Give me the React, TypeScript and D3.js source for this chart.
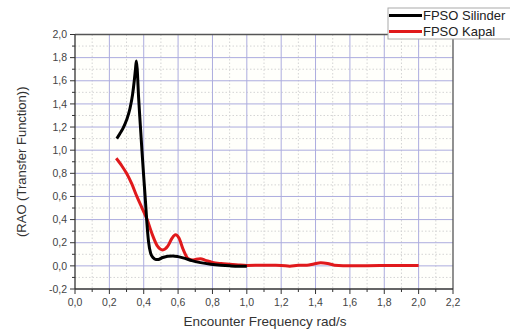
import React from "react";
import * as d3 from "d3";

const silinderX = [0.243, 0.26, 0.28, 0.30, 0.32, 0.335, 0.345, 0.352, 0.357, 0.362, 0.37, 0.38, 0.39, 0.40, 0.41, 0.418, 0.428, 0.44, 0.455, 0.47, 0.485, 0.51, 0.54, 0.57, 0.60, 0.64, 0.68, 0.73, 0.79, 0.85, 0.90, 0.95, 1.0];
const silinderY = [1.10, 1.14, 1.19, 1.26, 1.36, 1.48, 1.60, 1.70, 1.77, 1.70, 1.46, 1.22, 0.99, 0.77, 0.56, 0.38, 0.21, 0.11, 0.07, 0.056, 0.056, 0.072, 0.084, 0.086, 0.08, 0.065, 0.045, 0.028, 0.014, 0.005, 0.0, -0.003, -0.003];

const kapalX = [0.24, 0.27, 0.30, 0.33, 0.36, 0.39, 0.42, 0.45, 0.48, 0.51, 0.54, 0.565, 0.585, 0.605, 0.63, 0.66, 0.685, 0.705, 0.73, 0.76, 0.80, 0.85, 0.90, 0.95, 1.0, 1.1, 1.2, 1.25, 1.3, 1.35, 1.39, 1.43, 1.47, 1.51, 1.56, 1.7, 1.85, 2.0];
const kapalY = [0.93, 0.87, 0.80, 0.71, 0.60, 0.50, 0.40, 0.27, 0.17, 0.138, 0.17, 0.24, 0.268, 0.24, 0.14, 0.06, 0.05, 0.058, 0.062, 0.048, 0.03, 0.02, 0.014, 0.008, 0.004, 0.005, 0.004, -0.003, 0.005, 0.005, 0.016, 0.026, 0.02, 0.006, 0.002, 0.002, 0.003, 0.003];

const xTicks = [0, 0.2, 0.4, 0.6, 0.8, 1.0, 1.2, 1.4, 1.6, 1.8, 2.0, 2.2];
const yTicks = [-0.2, 0, 0.2, 0.4, 0.6, 0.8, 1.0, 1.2, 1.4, 1.6, 1.8, 2.0];
const seriesNames = ["FPSO Silinder", "FPSO Kapal"];
const seriesColors = ["#000000", "#e0191b"];

const fmt = (v: number) => v.toFixed(1).replace(".", ",");

export default function App() {
  const W = 510, H = 331;
  const left = 75, right = 453, top = 34.5, bottom = 289;
  const x = d3.scaleLinear().domain([0, 2.2]).range([left, right]);
  const y = d3.scaleLinear().domain([-0.2, 2.0]).range([bottom, top]);
  const minorX = xTicks.slice(0, -1).map((t) => t + 0.1);
  const minorY = yTicks.slice(0, -1).map((t) => t + 0.1);
  const line = d3
    .line<[number, number]>()
    .x((d) => x(d[0]))
    .y((d) => y(d[1]))
    .curve(d3.curveMonotoneX);
  const sData: [number, number][] = silinderX.map((v, i) => [v, silinderY[i]]);
  const kData: [number, number][] = kapalX.map((v, i) => [v, kapalY[i]]);
  const font = "'Liberation Sans', Arial, sans-serif";
  return (
    <svg
      width={W}
      height={H}
      style={{ position: "absolute", left: 0, top: 0, background: "#fff" }}
      fontFamily={font}
    >
      <rect x={left} y={top} width={right - left} height={bottom - top} fill="#fffffb" />
      {minorX.map((t) => (
        <line key={"mx" + t} x1={x(t)} x2={x(t)} y1={top} y2={bottom} stroke="#d4d4d4" strokeDasharray="1.5,2" />
      ))}
      {minorY.map((t) => (
        <line key={"my" + t} x1={left} x2={right} y1={y(t)} y2={y(t)} stroke="#d4d4d4" strokeDasharray="1.5,2" />
      ))}
      {xTicks.slice(1, -1).map((t) => (
        <line key={"gx" + t} x1={x(t)} x2={x(t)} y1={top} y2={bottom} stroke="#acacde" strokeWidth={1} />
      ))}
      {yTicks.slice(1, -1).map((t) => (
        <line key={"gy" + t} x1={left} x2={right} y1={y(t)} y2={y(t)} stroke="#acacde" strokeWidth={1} />
      ))}
      <path d={line(kData) || ""} fill="none" stroke={seriesColors[1]} strokeWidth={3} strokeLinejoin="round" />
      <path d={line(sData) || ""} fill="none" stroke={seriesColors[0]} strokeWidth={3} strokeLinejoin="round" />
      <line x1={left} x2={right} y1={top} y2={top} stroke="#555" strokeWidth={1.3} />
      <line x1={right} x2={right} y1={top} y2={bottom} stroke="#555" strokeWidth={1.3} />
      <line x1={left} x2={left} y1={top} y2={bottom} stroke="#333" strokeWidth={1.3} />
      <line x1={left} x2={right} y1={bottom} y2={bottom} stroke="#333" strokeWidth={1.3} />
      {xTicks.map((t) => (
        <g key={"xt" + t}>
          <line x1={x(t)} x2={x(t)} y1={bottom} y2={bottom + 5} stroke="#333" />
          <text x={x(t)} y={bottom + 17} textAnchor="middle" fontSize={10.5} fill="#444">
            {fmt(t)}
          </text>
        </g>
      ))}
      {minorX.map((t) => (
        <line key={"mxt" + t} x1={x(t)} x2={x(t)} y1={bottom} y2={bottom + 3} stroke="#333" />
      ))}
      {yTicks.map((t) => (
        <g key={"yt" + t}>
          <line x1={left - 5} x2={left} y1={y(t)} y2={y(t)} stroke="#333" />
          <text x={left - 8} y={y(t) + 3.7} textAnchor="end" fontSize={10.5} fill="#444">
            {fmt(t)}
          </text>
        </g>
      ))}
      {minorY.map((t) => (
        <line key={"myt" + t} x1={left - 3} x2={left} y1={y(t)} y2={y(t)} stroke="#333" />
      ))}
      <text x={(left + right) / 2 + 1} y={326} textAnchor="middle" fontSize={13.5} fill="#333">
        Encounter Frequency rad/s
      </text>
      <text
        transform={`translate(26,${(top + bottom) / 2}) rotate(-90)`}
        textAnchor="middle"
        fontSize={13}
        fill="#333"
      >
        (RAO (Transfer Function))
      </text>
      <rect x={388} y={8} width={130} height={31} fill="#fff" stroke="#aaa" strokeWidth={1} />
      {seriesNames.map((n, i) => (
        <g key={n}>
          <line x1={389} x2={422} y1={15.5 + i * 16} y2={15.5 + i * 16} stroke={seriesColors[i]} strokeWidth={3} />
          <text x={423} y={20 + i * 16} fontSize={13} fill="#222">
            {n}
          </text>
        </g>
      ))}
    </svg>
  );
}
